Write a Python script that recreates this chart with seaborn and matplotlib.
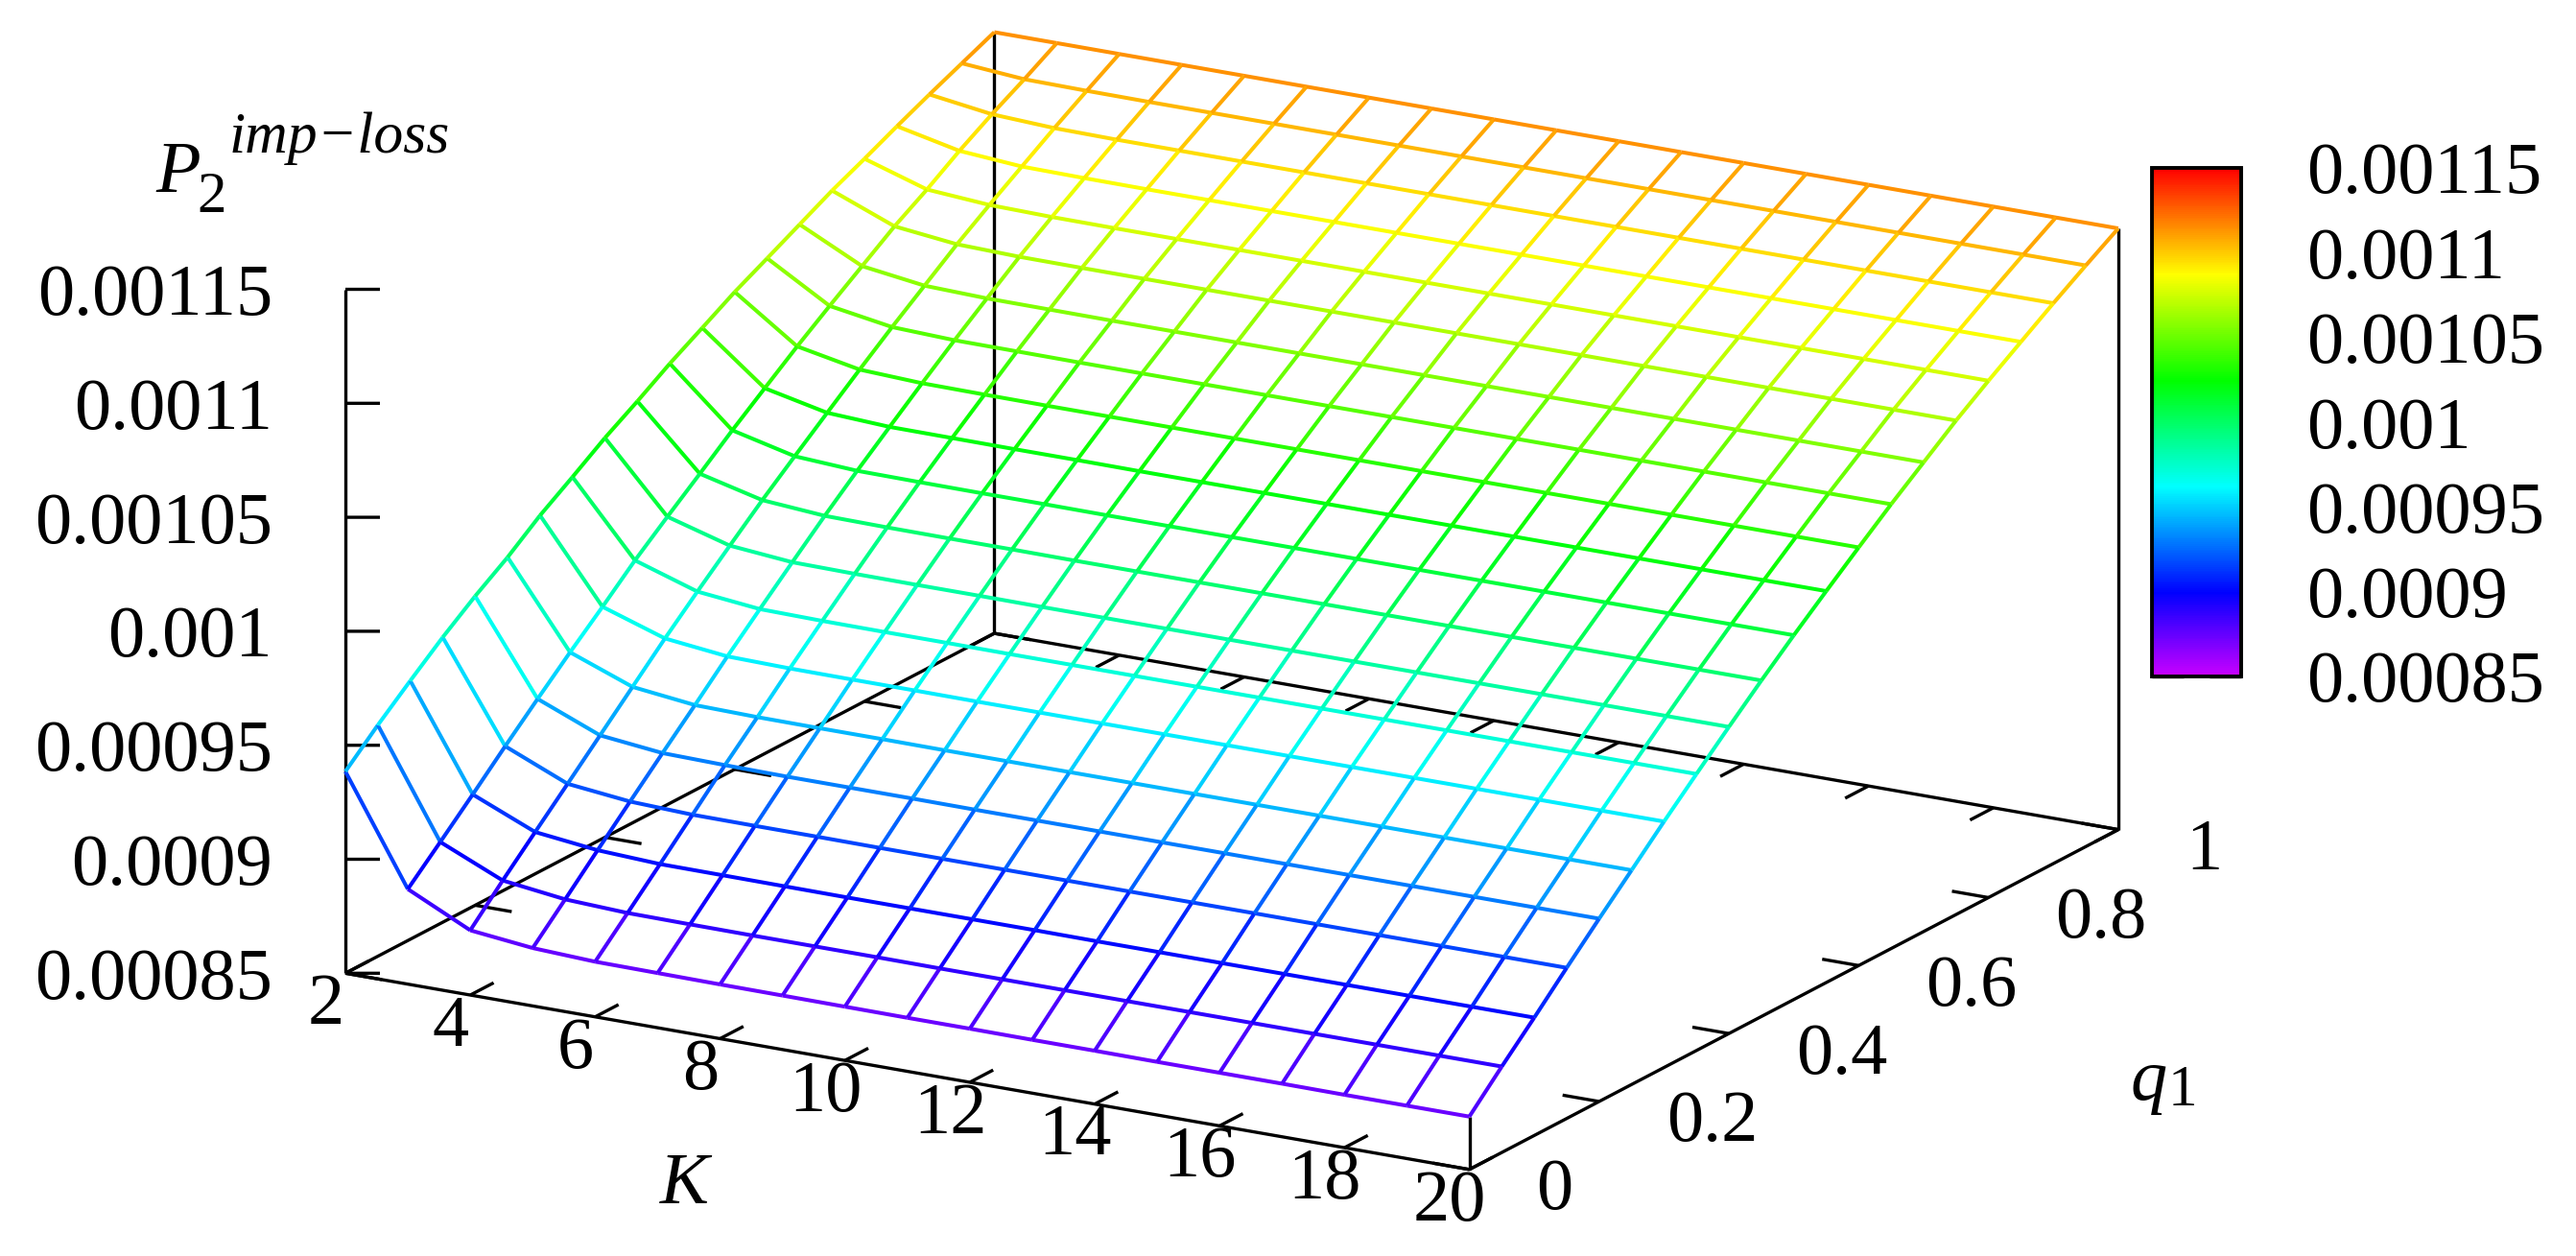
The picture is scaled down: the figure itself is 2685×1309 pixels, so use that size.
import numpy as np
import matplotlib
matplotlib.use("Agg")
import matplotlib.pyplot as plt
import matplotlib.colors as mcolors
import seaborn as sns
from mpl_toolkits.mplot3d import proj3d
from mpl_toolkits.mplot3d.art3d import Line3DCollection

K_vals = [2, 3, 4, 5, 6, 7, 8, 9, 10, 11, 12, 13, 14, 15, 16, 17, 18, 19, 20]
q_vals = [0, 0.05, 0.1, 0.15, 0.2, 0.25, 0.3, 0.35, 0.4, 0.45, 0.5, 0.55, 0.6, 0.65, 0.7, 0.75, 0.8, 0.85, 0.9, 0.95, 1]

# one row per K, one column per q1, in units of 1e-5
P2_rows = [
    [93.85, 95.14, 96.34, 97.50, 98.56, 99.52, 100.61, 101.55, 102.52, 103.38, 104.29, 105.11, 105.94, 106.67, 107.41, 108.15, 108.80, 109.48, 110.13, 110.75, 111.37],
    [89.17, 90.49, 91.83, 93.20, 94.53, 95.83, 97.08, 98.37, 99.54, 100.68, 101.84, 102.94, 104.03, 105.06, 106.06, 107.06, 107.93, 108.88, 109.74, 110.53, 111.37],
    [87.84, 89.28, 90.66, 92.03, 93.41, 94.79, 96.17, 97.48, 98.75, 100.00, 101.18, 102.34, 103.49, 104.61, 105.68, 106.75, 107.73, 108.67, 109.61, 110.50, 111.37],
    [87.54, 88.93, 90.34, 91.73, 93.11, 94.47, 95.86, 97.19, 98.50, 99.79, 101.02, 102.20, 103.37, 104.51, 105.60, 106.68, 107.68, 108.64, 109.58, 110.49, 111.37],
    [87.42, 88.81, 90.21, 91.63, 93.06, 94.42, 95.81, 97.15, 98.47, 99.76, 101.00, 102.19, 103.35, 104.50, 105.59, 106.67, 107.67, 108.63, 109.58, 110.49, 111.37],
    [87.40, 88.79, 90.20, 91.62, 93.03, 94.41, 95.80, 97.14, 98.46, 99.75, 100.99, 102.18, 103.34, 104.49, 105.58, 106.67, 107.67, 108.63, 109.58, 110.49, 111.37],
    [87.38, 88.78, 90.19, 91.62, 93.03, 94.41, 95.80, 97.14, 98.46, 99.75, 100.99, 102.18, 103.34, 104.49, 105.58, 106.67, 107.67, 108.63, 109.58, 110.49, 111.37],
    [87.37, 88.78, 90.18, 91.61, 93.03, 94.40, 95.79, 97.13, 98.45, 99.74, 100.98, 102.17, 103.34, 104.49, 105.58, 106.67, 107.67, 108.63, 109.58, 110.49, 111.37],
    [87.36, 88.78, 90.18, 91.61, 93.02, 94.40, 95.79, 97.13, 98.45, 99.74, 100.98, 102.17, 103.34, 104.49, 105.58, 106.67, 107.67, 108.63, 109.58, 110.49, 111.37],
    [87.35, 88.77, 90.18, 91.61, 93.02, 94.40, 95.79, 97.13, 98.45, 99.74, 100.98, 102.17, 103.34, 104.49, 105.58, 106.67, 107.67, 108.63, 109.58, 110.49, 111.37],
    [87.35, 88.77, 90.18, 91.61, 93.02, 94.40, 95.79, 97.13, 98.45, 99.74, 100.98, 102.17, 103.34, 104.49, 105.58, 106.67, 107.67, 108.63, 109.58, 110.49, 111.37],
    [87.34, 88.77, 90.17, 91.61, 93.02, 94.40, 95.79, 97.13, 98.45, 99.74, 100.98, 102.17, 103.34, 104.49, 105.58, 106.67, 107.67, 108.63, 109.58, 110.49, 111.37],
    [87.34, 88.77, 90.17, 91.61, 93.02, 94.40, 95.79, 97.13, 98.45, 99.74, 100.98, 102.17, 103.34, 104.49, 105.58, 106.67, 107.67, 108.63, 109.58, 110.49, 111.37],
    [87.33, 88.77, 90.17, 91.61, 93.02, 94.40, 95.79, 97.13, 98.45, 99.74, 100.98, 102.17, 103.34, 104.49, 105.58, 106.67, 107.67, 108.63, 109.58, 110.49, 111.37],
    [87.33, 88.77, 90.17, 91.61, 93.02, 94.40, 95.79, 97.13, 98.45, 99.74, 100.98, 102.17, 103.34, 104.49, 105.58, 106.67, 107.67, 108.63, 109.58, 110.49, 111.37],
    [87.33, 88.77, 90.17, 91.61, 93.02, 94.40, 95.79, 97.13, 98.45, 99.74, 100.98, 102.17, 103.34, 104.49, 105.58, 106.67, 107.67, 108.63, 109.58, 110.49, 111.37],
    [87.32, 88.77, 90.17, 91.61, 93.02, 94.40, 95.79, 97.13, 98.45, 99.74, 100.98, 102.17, 103.34, 104.49, 105.58, 106.67, 107.67, 108.63, 109.58, 110.49, 111.37],
    [87.32, 88.77, 90.17, 91.61, 93.02, 94.40, 95.79, 97.13, 98.45, 99.74, 100.98, 102.17, 103.34, 104.49, 105.58, 106.67, 107.67, 108.63, 109.58, 110.49, 111.37],
    [87.32, 88.77, 90.17, 91.61, 93.02, 94.40, 95.79, 97.13, 98.45, 99.74, 100.98, 102.17, 103.34, 104.49, 105.58, 106.67, 107.67, 108.63, 109.58, 110.49, 111.37],
]

K_ticks = [2, 4, 6, 8, 10, 12, 14, 16, 18, 20]
q_ticks = [0, 0.2, 0.4, 0.6, 0.8, 1]
q_tick_labels = ["0", "0.2", "0.4", "0.6", "0.8", "1"]
z_ticks = [0.00085, 0.0009, 0.00095, 0.001, 0.00105, 0.0011, 0.00115]
z_tick_labels = ["0.00085", "0.0009", "0.00095", "0.001", "0.00105", "0.0011", "0.00115"]

W, H = 2685, 1309
FS = 55
LW = 2.4

sns.set_theme(style="white")
plt.rcParams["font.family"] = ["Liberation Serif", "DejaVu Serif"]
plt.rcParams["text.color"] = "black"
plt.rcParams["ytick.color"] = "black"

# purple up to red, same as the rainbow bar
cmap = mcolors.ListedColormap(sns.hls_palette(360, h=0, l=0.5, s=1)[:288][::-1])
norm = mcolors.Normalize(vmin=z_ticks[0], vmax=z_ticks[-1])

K = np.array(K_vals, dtype=float)
q = np.array(q_vals, dtype=float)
Z = np.array(P2_rows) * 1e-5

fig = plt.figure(figsize=(W / 100, H / 100), dpi=100)
fig.patch.set_facecolor("white")

# square axes, bigger than the figure in height
S = 1994
ax = fig.add_axes([260 / W, -298 / H, S / W, S / H], projection="3d", proj_type="ortho", computed_zorder=False)
ax.view_init(elev=17.6, azim=-60)
ax.set_box_aspect((1, 1, 0.5528))
ax.set_xlim(K_vals[0], K_vals[-1], view_margin=0)
ax.set_ylim(q_vals[0], q_vals[-1], view_margin=0)
ax.set_zlim(z_ticks[0], z_ticks[-1], view_margin=0)
ax.set_axis_off()
ax.patch.set_alpha(0)

zb = z_ticks[0]
M = ax.get_proj()


def black(xs, ys, zs):
    ax.plot(xs, ys, zs, color="black", lw=LW, solid_capstyle="butt", zorder=1)


def label3d(x, y, z, s, ha):
    # flat text anchored at a projected data position
    px, py, _ = proj3d.proj_transform(x, y, z, M)
    ax.text2D(px, py, s, transform=ax.transData, ha=ha, va="center_baseline", fontsize=FS, color="black")


# base frame and the vertical edges up to the surface
black([2, 20, 20, 2, 2], [0, 0, 1, 1, 0], [zb] * 5)
black([2, 2], [0, 0], [zb, z_ticks[-1]])
black([2, 2], [1, 1], [zb, Z[0, -1]])
black([20, 20], [0, 0], [zb, Z[-1, 0]])
black([20, 20], [1, 1], [zb, Z[-1, -1]])

for k in K_ticks:
    black([k, k], [0, 0.036], [zb, zb])
    black([k, k], [1, 1 - 0.036], [zb, zb])
    label3d(k + 0.342, -0.0632, zb, str(k), "center")

for v, lab in zip(q_ticks, q_tick_labels):
    black([20, 20 - 0.585], [v, v], [zb, zb])
    black([2, 2 + 0.585], [v, v], [zb, zb])
    label3d(20 + 1.136, v - 0.0059, zb, lab, "left")

for v, lab in zip(z_ticks, z_tick_labels):
    black([2, 2 + 0.415], [0, 0.0133], [v, v])
    label3d(2 - 0.876, -0.0281, v, lab, "right")

# mesh, every segment coloured by its height
segs, vals = [], []
for i in range(len(K)):
    for j in range(len(q)):
        if i + 1 < len(K):
            segs.append([(K[i], q[j], Z[i, j]), (K[i + 1], q[j], Z[i + 1, j])])
            vals.append((Z[i, j] + Z[i + 1, j]) / 2)
        if j + 1 < len(q):
            segs.append([(K[i], q[j], Z[i, j]), (K[i], q[j + 1], Z[i, j + 1])])
            vals.append((Z[i, j] + Z[i, j + 1]) / 2)
mesh = Line3DCollection(segs, colors=cmap(norm(np.array(vals))), linewidths=2.9, zorder=2)
ax.add_collection3d(mesh)


def put(x, y, s, **kw):
    # x, y in image pixels from top left
    fig.text(x / W, 1 - y / H, s, ha="center", va="center_baseline", color="black", **kw)


put(713, 1228, "K", fontsize=FS, style="italic")
put(2240, 1120, "q", fontsize=FS, style="italic")
put(2275, 1131, "1", fontsize=44)
put(186, 173, "P", fontsize=FS, style="italic")
put(221, 200, "2", fontsize=44)
put(354, 138, "imp\u2212loss", fontsize=44.5, style="italic")

# colour bar
cax = fig.add_axes([2243 / W, 1 - 705 / H, 93 / W, 530 / H])
cb = fig.colorbar(plt.cm.ScalarMappable(norm=norm, cmap=cmap), cax=cax, ticks=z_ticks)
cb.outline.set_linewidth(2.8)
cb.outline.set_edgecolor("black")
cax.set_yticklabels(z_tick_labels)
cax.tick_params(axis="y", left=True, right=True, labelleft=False, labelright=True,
                direction="in", length=24, width=2.4, color="black", labelcolor="black", pad=49, labelsize=FS)

fig.savefig("out.png", dpi=100, facecolor="white")
